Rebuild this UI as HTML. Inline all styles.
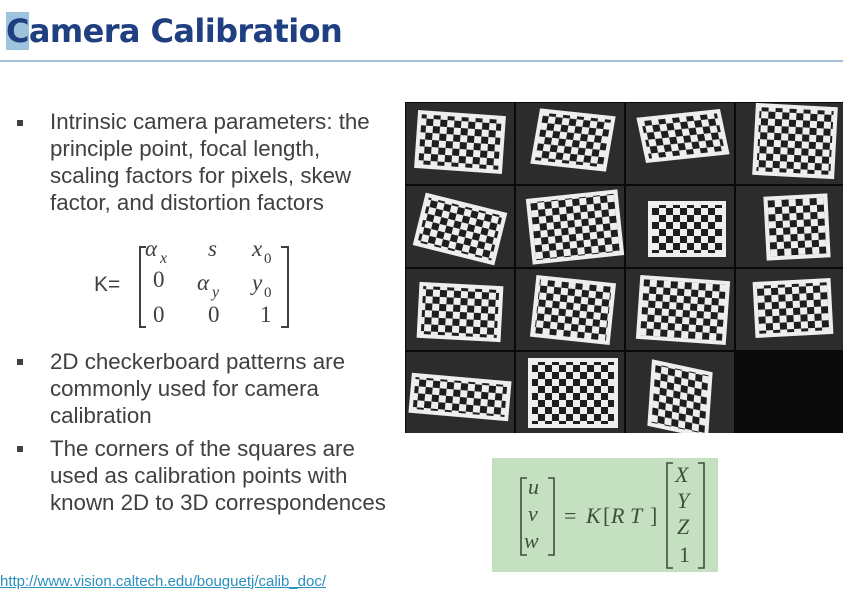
<!DOCTYPE html>
<html><head><meta charset="utf-8">
<style>
body{margin:0;width:843px;height:591px;background:#fff;position:relative;overflow:hidden;font-family:"Liberation Sans",sans-serif;}
.abs{position:absolute;}
#title{left:6px;top:12px;font-size:32px;font-weight:bold;color:#1f3f80;font-family:"DejaVu Sans","Liberation Sans",sans-serif;letter-spacing:-0.6px;}
#rule{left:0;top:60px;width:843px;height:2px;background:#a9bcd8;}
.b{left:50px;font-size:22.3px;color:#404040;line-height:27px;width:360px;white-space:nowrap;}
.sq{width:6px;height:6px;background:#404040;left:17px;}
#link{left:0;top:573px;font-size:15px;color:#2a8fbd;text-decoration:underline;}
#grn{left:492px;top:458px;width:226px;height:114px;background:#c5e0c0;}
</style></head><body>
<div id="title" class="abs"><span style="background:#9ec3dc">C</span>amera Calibration</div>
<div id="rule" class="abs"></div>
<div class="abs sq" style="top:120px"></div>
<div class="abs b" style="top:108px">Intrinsic camera parameters: the<br>principle point, focal length,<br>scaling factors for pixels, skew<br>factor, and distortion factors</div>
<div class="abs sq" style="top:359px"></div>
<div class="abs b" style="top:348px">2D checkerboard patterns are<br>commonly used for camera<br>calibration</div>
<div class="abs sq" style="top:446px"></div>
<div class="abs b" style="top:435px">The corners of the squares are<br>used as calibration points with<br>known 2D to 3D correspondences</div>

<svg class="abs" style="left:80px;top:220px" width="240" height="110">
<text x="14" y="71" font-family="Liberation Sans,sans-serif" font-size="21" fill="#404040">K=</text>
<g font-family="Liberation Serif,DejaVu Serif,serif" font-size="23" fill="#404040" font-style="italic">
<text x="65" y="36">α</text><text x="80" y="43" font-size="16">x</text>
<text x="128" y="36">s</text>
<text x="172" y="36">x</text><text x="184" y="43" font-size="15" font-style="normal">0</text>
<text x="73" y="67" font-style="normal">0</text>
<text x="117" y="70">α</text><text x="132" y="77" font-size="16">y</text>
<text x="172" y="70">y</text><text x="184" y="77" font-size="15" font-style="normal">0</text>
<text x="73" y="102" font-style="normal">0</text>
<text x="128" y="102" font-style="normal">0</text>
<text x="180" y="102" font-style="normal">1</text>
</g>
<path d="M66,27 h-6 v80 h6 M201,27 h7 v80 h-7" stroke="#404040" stroke-width="2" fill="none"/>
</svg>

<div id="grn" class="abs">
<svg width="226" height="114">
<g font-family="Liberation Serif,DejaVu Serif,serif" font-size="22" fill="#3e4e3e" font-style="italic">
<text x="36" y="36">u</text><text x="36" y="63">v</text><text x="32" y="90">w</text>
<text x="72" y="65" font-style="normal">=</text>
<text x="94" y="65">K</text><text x="111" y="65" font-style="normal">[</text><text x="119" y="65">R T</text><text x="158" y="65" font-style="normal">]</text>
<text x="183" y="24">X</text><text x="185" y="50">Y</text><text x="185" y="76">Z</text><text x="187" y="104" font-style="normal">1</text>
</g>
<path d="M35,20 h-6 v77 h6 M56,20 h6 v77 h-6 M181,5 h-6 v105 h6 M206,5 h6 v105 h-6" stroke="#3e4e3e" stroke-width="1.6" fill="none"/>
</svg></div>

<svg class="abs" style="left:405px;top:102px" width="438" height="331" id="grid">
<defs><pattern id="chk" width="14" height="14" patternUnits="userSpaceOnUse"><rect width="14" height="14" fill="#eee"/><rect width="7" height="7" fill="#1e1e1e"/><rect x="7" y="7" width="7" height="7" fill="#1e1e1e"/></pattern></defs>
<rect width="438" height="331" fill="#0a0a0a"/>
</svg>
<a id="link" class="abs" href="#">http://www.vision.caltech.edu/bouguetj/calib_doc/</a>
<script>
const cols=[0,110,220,330];
const rows=[0,83,166,249];
// [cx, cy, w, h, rotate, skewX] per board in local cell coords
const boards=[[55,40,88,58,4,0],[58,38,76,56,6,-4],[58,34,84,46,-6,6],[60,39,82,72,3,0],
[55,44,84,54,14,0],[60,42,92,66,-6,0],[62,44,78,56,0,0],[62,42,64,64,-3,0],
[55,44,84,56,3,0],[58,42,80,62,6,0],[58,42,90,64,4,0],[58,40,78,56,-3,0],
[55,46,100,40,5,0],[58,42,90,70,0,0],[55,48,62,66,12,8]];
const g=document.getElementById('grid');
const NS='http://www.w3.org/2000/svg';
boards.forEach((b,i)=>{
 const c=i%4,r=Math.floor(i/4);
 const cell=document.createElementNS(NS,'rect');
 
 
 cell.setAttribute('x',cols[c]+1);cell.setAttribute('y',rows[r]+1);
 cell.setAttribute('width',108);cell.setAttribute('height',81);cell.setAttribute('fill','#2c2c2c');
 g.appendChild(cell);
 const grp=document.createElementNS(NS,'g');
 grp.setAttribute('transform',`translate(${cols[c]+b[0]},${rows[r]+b[1]}) rotate(${b[4]}) skewX(${b[5]})`);
 const bd=document.createElementNS(NS,'rect');
 
 
 bd.setAttribute('x',-b[2]/2);bd.setAttribute('y',-b[3]/2);bd.setAttribute('width',b[2]);bd.setAttribute('height',b[3]);
 bd.setAttribute('fill','#eee');
 grp.appendChild(bd);
 const ck=document.createElementNS(NS,'rect');
 
 
 ck.setAttribute('x',-b[2]/2+4);ck.setAttribute('y',-b[3]/2+4);ck.setAttribute('width',b[2]-8);ck.setAttribute('height',b[3]-8);
 ck.setAttribute('fill','url(#chk)');
 grp.appendChild(ck);
 g.appendChild(grp);
});
</script>
</body></html>
